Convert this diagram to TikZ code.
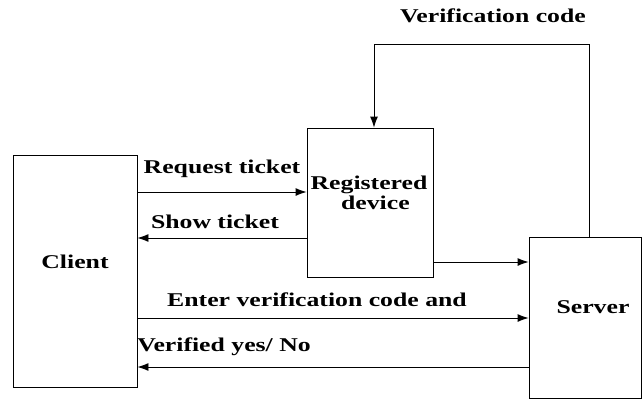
\documentclass[tikz,border=0pt]{standalone}
\usepackage{fontspec}
\setmainfont{Liberation Serif}[FakeStretch=1.32]
\usetikzlibrary{arrows.meta}
\begin{document}
\begin{tikzpicture}[x=1pt,y=-1pt,
  box/.style={draw,line width=0.9pt,inner sep=0pt,align=center},
  lbl/.style={font=\fontsize{19.5}{22}\selectfont\bfseries,inner sep=0pt},
  conn/.style={line width=0.9pt,-{Latex[length=11pt,width=8pt]}},
  plain/.style={line width=0.9pt}]
\useasboundingbox (0,0) rectangle (643,400);
\node[box,minimum width=124pt,minimum height=232pt] (client) at (75,271) {};
\node[lbl] (clientt) at (75,262) {Client};
\node[box,minimum width=126pt,minimum height=149pt] (reg) at (370,202.5) {};
\node[lbl,align=center] (regt) at (369,193) {Registered\\[-2pt]\ \ device};
\node[box,minimum width=112pt,minimum height=161pt] (server) at (585,317.5) {};
\node[lbl] (servert) at (593,307) {Server};

\node[lbl] (l1) at (222,169) {Request ticket};
\node[lbl] (l2) at (215,222) {Show ticket};
\node[lbl] (l3) at (317,300) {Enter verification code and};
\node[lbl] (l4) at (224,347) {Verified yes/ No};
\node[lbl] (l5) at (493,16) {Verification code};

\draw[conn] (client.east |- 0,192) -- (reg.west |- 0,192);
\draw[conn] (reg.west |- 0,238) -- (client.east |- 0,238);
\draw[conn] (reg.east |- 0,262) -- (server.west |- 0,262);
\draw[conn] (client.east |- 0,318) -- (server.west |- 0,318);
\draw[conn] (server.west |- 0,367) -- (client.east |- 0,367);
\coordinate (c1) at (589,44);
\coordinate (c2) at (374,44);
\draw[conn] (server.north -| c1) -- (c1) -- (c2) -- (reg.north -| c2);
\end{tikzpicture}
\end{document}
